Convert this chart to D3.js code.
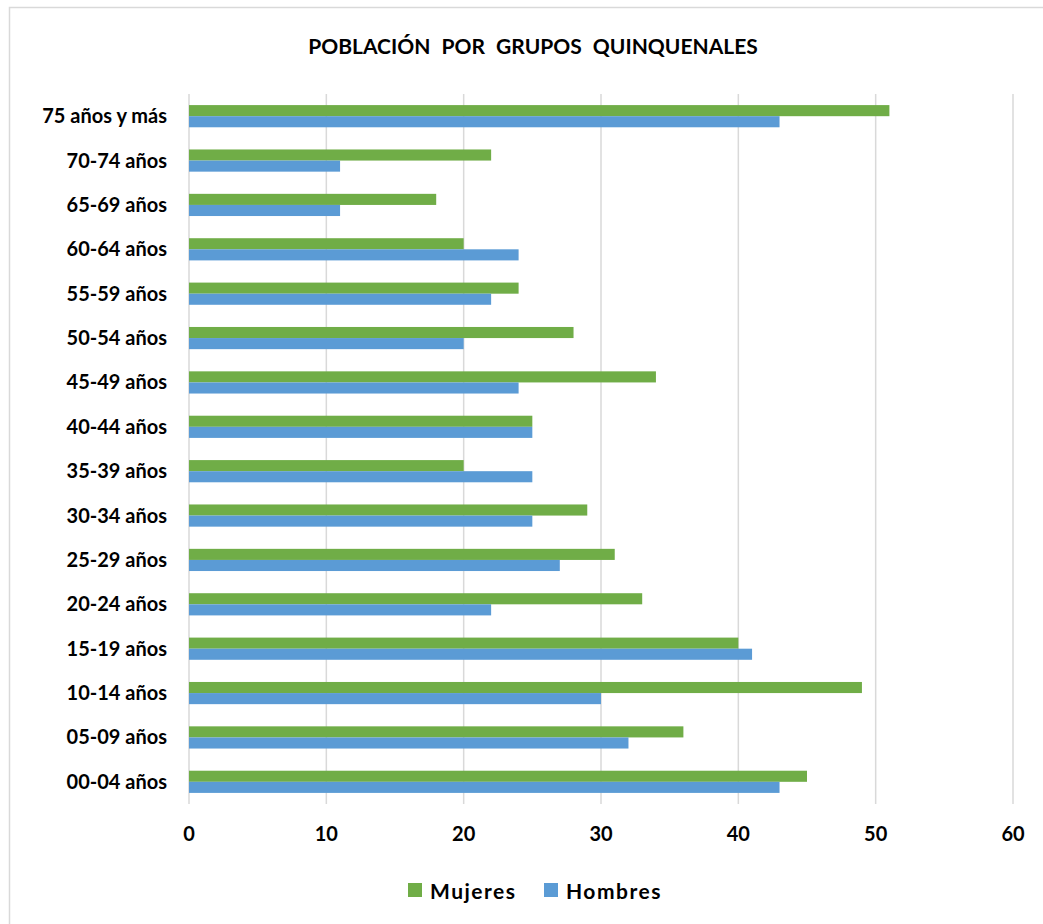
<!DOCTYPE html>
<html>
<head>
<meta charset="utf-8">
<script src="https://cdn.jsdelivr.net/npm/d3@7"></script>
<style>
  body { margin: 0; background: #fff; }
  svg text { font-family: Lato, "Open Sans", sans-serif; font-weight: bold; fill: #000; }
</style>
</head>
<body>
<svg id="chart"></svg>
<script>
var categories = ["00-04 años", "05-09 años", "10-14 años", "15-19 años", "20-24 años",
                  "25-29 años", "30-34 años", "35-39 años", "40-44 años", "45-49 años",
                  "50-54 años", "55-59 años", "60-64 años", "65-69 años", "70-74 años",
                  "75 años y más"];
var mujeres = [45, 36, 49, 40, 33, 31, 29, 20, 25, 34, 28, 24, 20, 18, 22, 51];
var hombres = [43, 32, 30, 41, 22, 27, 25, 25, 25, 24, 20, 22, 24, 11, 11, 43];
var seriesNames = ["Mujeres", "Hombres"];
var xTicks = [0, 10, 20, 30, 40, 50, 60];

var width = 1043, height = 924;
var plotLeft = 189, plotRight = 1013, plotTop = 94, plotBottom = 804;
var colors = { Mujeres: "#70AD47", Hombres: "#5B9BD5" };

var svg = d3.select("#chart").attr("width", width).attr("height", height);

// chart border (only top/left visible in frame)
svg.append("rect")
    .attr("x", 9.5).attr("y", 7.5)
    .attr("width", 1040).attr("height", 930)
    .attr("fill", "none").attr("stroke", "#d9d9d9").attr("stroke-width", 1.5);

svg.append("text")
    .attr("x", 533).attr("y", 54)
    .attr("text-anchor", "middle")
    .style("font-size", "21px")
    .style("word-spacing", "6px")
    .text("POBLACIÓN POR GRUPOS QUINQUENALES");

var x = d3.scaleLinear().domain([0, 60]).range([plotLeft, plotRight]);
var y = d3.scaleBand().domain(categories.slice().reverse()).range([plotTop, plotBottom])
    .paddingInner(0.5).paddingOuter(0.25);
var ySub = d3.scaleBand().domain(seriesNames).range([0, y.bandwidth()]);

// gridlines
svg.selectAll("line.grid")
    .data(xTicks)
    .enter().append("line")
    .attr("class", "grid")
    .attr("x1", function(d) { return x(d); })
    .attr("x2", function(d) { return x(d); })
    .attr("y1", plotTop).attr("y2", plotBottom)
    .attr("stroke", "#d9d9d9").attr("stroke-width", 1.5);

var rows = categories.map(function(c, i) {
    return { cat: c, values: [{ s: "Mujeres", v: mujeres[i] }, { s: "Hombres", v: hombres[i] }] };
});

var groups = svg.selectAll("g.row")
    .data(rows)
    .enter().append("g")
    .attr("class", "row")
    .attr("transform", function(d) { return "translate(0," + y(d.cat) + ")"; });

groups.selectAll("rect")
    .data(function(d) { return d.values; })
    .enter().append("rect")
    .attr("x", x(0))
    .attr("y", function(d) { return ySub(d.s); })
    .attr("width", function(d) { return x(d.v) - x(0); })
    .attr("height", ySub.bandwidth())
    .attr("fill", function(d) { return colors[d.s]; });

// category labels
svg.selectAll("text.cat")
    .data(categories)
    .enter().append("text")
    .attr("class", "cat")
    .attr("x", 167)
    .attr("y", function(d) { return y(d) + y.bandwidth() / 2; })
    .attr("dy", "0.35em")
    .attr("text-anchor", "end")
    .style("font-size", "20px")
    .text(String);

// x tick labels
svg.selectAll("text.tick")
    .data(xTicks)
    .enter().append("text")
    .attr("class", "tick")
    .attr("x", function(d) { return x(d); })
    .attr("y", 841)
    .attr("text-anchor", "middle")
    .style("font-size", "20px")
    .text(String);

// legend
var legendX = [408, 544];
var legend = svg.selectAll("g.legend")
    .data(seriesNames)
    .enter().append("g")
    .attr("class", "legend")
    .attr("transform", function(d, i) { return "translate(" + legendX[i] + ",883)"; });
legend.append("rect")
    .attr("width", 14).attr("height", 14)
    .attr("fill", function(d) { return colors[d]; });
legend.append("text")
    .attr("x", 22).attr("y", 16)
    .style("font-size", "21px")
    .style("letter-spacing", "1.5px")
    .text(String);
</script>
</body>
</html>
